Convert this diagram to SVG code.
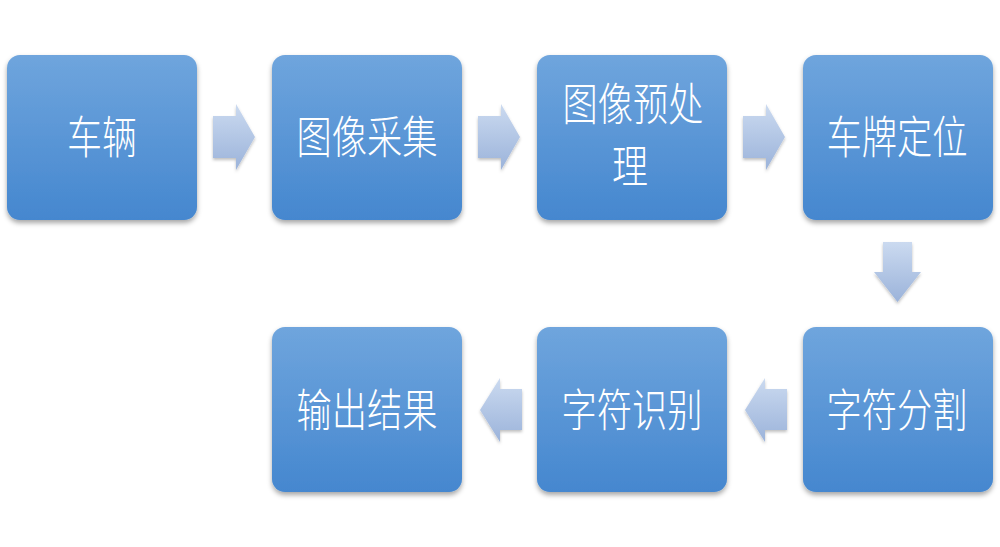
<svg xmlns="http://www.w3.org/2000/svg" width="1000" height="547" viewBox="0 0 1000 547">
  <defs>
    <linearGradient id="boxGrad" x1="0" y1="0" x2="0" y2="1">
      <stop offset="0" stop-color="#6fa5dd"/>
      <stop offset="1" stop-color="#4587cf"/>
    </linearGradient>
    <linearGradient id="arrGrad" x1="0" y1="0" x2="0" y2="1">
      <stop offset="0" stop-color="#cbdaf0"/>
      <stop offset="1" stop-color="#9bb3da"/>
    </linearGradient>
    <filter id="shadow" x="-10%" y="-10%" width="120%" height="130%">
      <feDropShadow dx="0" dy="3" stdDeviation="2.5" flood-color="#000" flood-opacity="0.35"/>
    </filter>
    <filter id="ashadow" x="-20%" y="-20%" width="140%" height="150%">
      <feDropShadow dx="0" dy="2" stdDeviation="1.5" flood-color="#000" flood-opacity="0.25"/>
    </filter>
  </defs>
  <style>
    .box { fill: url(#boxGrad); filter: url(#shadow); }
    .arr { fill: url(#arrGrad); filter: url(#ashadow); }
    .lbl { fill: #ffffff; font-family: "Noto Sans CJK SC", "Noto Sans", sans-serif; font-weight: 300; font-size: 45px; text-anchor: middle; dominant-baseline: central; }
  </style>
  <rect width="1000" height="547" fill="#ffffff"/>

  <g id="connectors">
    <path class="arr" d="M213,116 H236 V104 L255,137 L236,170 V158 H213 Z"/>
    <path class="arr" d="M478,116 H501 V104 L520,137 L501,170 V158 H478 Z"/>
    <path class="arr" d="M743,116 H766 V104 L785,137 L766,170 V158 H743 Z"/>
    <path class="arr" d="M883,242 H912 V272 H921 L897.5,302 L874,272 H883 Z"/>
    <path class="arr" d="M787,389 V430 H765 V442 L745,410 L765,378 V389 Z"/>
    <path class="arr" d="M522,389 V430 H500 V442 L480,410 L500,378 V389 Z"/>
  </g>

  <g id="node-vehicle">
    <rect class="box" x="7" y="55" width="190" height="165" rx="13"/>
    <text class="lbl" x="102" y="134" textLength="70" lengthAdjust="spacingAndGlyphs">车辆</text>
  </g>
  <g id="node-capture">
    <rect class="box" x="272" y="55" width="190" height="165" rx="13"/>
    <text class="lbl" x="367" y="134" textLength="141" lengthAdjust="spacingAndGlyphs">图像采集</text>
  </g>
  <g id="node-preprocess">
    <rect class="box" x="537" y="55" width="190" height="165" rx="13"/>
    <text class="lbl" x="633" y="101" textLength="141" lengthAdjust="spacingAndGlyphs">图像预处</text>
    <text class="lbl" x="630" y="163" textLength="36" lengthAdjust="spacingAndGlyphs">理</text>
  </g>
  <g id="node-locate">
    <rect class="box" x="803" y="55" width="190" height="165" rx="13"/>
    <text class="lbl" x="897" y="134" textLength="141" lengthAdjust="spacingAndGlyphs">车牌定位</text>
  </g>
  <g id="node-segment">
    <rect class="box" x="803" y="327" width="190" height="165" rx="13"/>
    <text class="lbl" x="897" y="407" textLength="141" lengthAdjust="spacingAndGlyphs">字符分割</text>
  </g>
  <g id="node-recognize">
    <rect class="box" x="537" y="327" width="190" height="165" rx="13"/>
    <text class="lbl" x="632" y="407" textLength="141" lengthAdjust="spacingAndGlyphs">字符识别</text>
  </g>
  <g id="node-output">
    <rect class="box" x="272" y="327" width="190" height="165" rx="13"/>
    <text class="lbl" x="367" y="407" textLength="141" lengthAdjust="spacingAndGlyphs">输出结果</text>
  </g>
</svg>
